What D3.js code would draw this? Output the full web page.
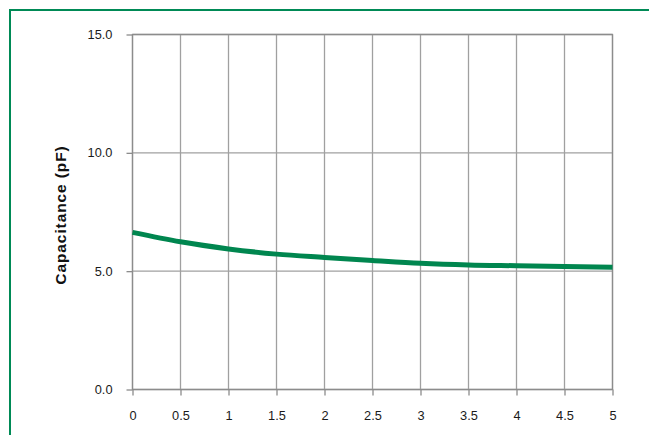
<!DOCTYPE html>
<html>
<head>
<meta charset="utf-8">
<script src="https://cdn.jsdelivr.net/npm/d3@7"></script>
<style>
  body { margin: 0; background: #fff; }
  text { font-family: "Liberation Sans", Arial, sans-serif; }
</style>
</head>
<body>
<div id="chart"></div>
<script>
var width = 649;
var height = 435;
var margin = { top: 34.5, right: 36.5, bottom: 45.5, left: 132.5 };

// values
var voltage = [0, 0.5, 1, 1.5, 2, 2.5, 3, 3.5, 4, 4.5, 5];
var capacitance = [6.64, 6.24, 5.94, 5.72, 5.58, 5.45, 5.33, 5.26, 5.23, 5.20, 5.17];
var xTicks = [0, 0.5, 1, 1.5, 2, 2.5, 3, 3.5, 4, 4.5, 5];
var yTicks = [0, 5, 10, 15];

const svg = d3.select("#chart")
    .append("svg")
    .attr("width", width)
    .attr("height", height);

// green frame (right and bottom run off the page)
svg.append("rect")
    .attr("x", 10).attr("y", 10)
    .attr("width", width + 20).attr("height", height + 20)
    .attr("fill", "none")
    .attr("stroke", "#008a56")
    .attr("stroke-width", 2);

const w = width - margin.left - margin.right;
const h = height - margin.top - margin.bottom;

const x = d3.scaleLinear().domain([0, 5]).range([0, w]);
const y = d3.scaleLinear().domain([0, 15]).range([h, 0]);

const g = svg.append("g")
    .attr("transform", "translate(" + margin.left + "," + margin.top + ")");

// grid
g.append("g").selectAll("line")
    .data(xTicks)
    .join("line")
    .attr("x1", d => x(d)).attr("x2", d => x(d))
    .attr("y1", 0).attr("y2", h)
    .attr("stroke", "#a0a0a0")
    .attr("stroke-width", 1.3);

g.append("g").selectAll("line")
    .data(yTicks)
    .join("line")
    .attr("x1", 0).attr("x2", w)
    .attr("y1", d => y(d)).attr("y2", d => y(d))
    .attr("stroke", "#a0a0a0")
    .attr("stroke-width", 1.3);

// axes
var xAxis = g.append("g")
    .attr("transform", "translate(0," + h + ")")
    .call(d3.axisBottom(x).tickValues(xTicks).tickSize(6).tickPadding(15).tickFormat(d3.format("")));

var yAxis = g.append("g")
    .call(d3.axisLeft(y).tickValues(yTicks).tickSize(6).tickPadding(14).tickFormat(d3.format(".1f")));

[xAxis, yAxis].forEach(function(a) {
    a.select(".domain").remove();
    a.selectAll(".tick line").attr("stroke", "#8c8c8c").attr("stroke-width", 1.3);
    a.selectAll(".tick text")
        .attr("fill", "#1a1a1a")
        .style("font-size", "12.8px");
});

// frame of plot
g.append("rect")
    .attr("width", w).attr("height", h)
    .attr("fill", "none")
    .attr("stroke", "#8c8c8c")
    .attr("stroke-width", 1.3);

// curve
g.append("path")
    .datum(voltage.map((v, i) => [v, capacitance[i]]))
    .attr("fill", "none")
    .attr("stroke", "#00864f")
    .attr("stroke-width", 5)
    .attr("d", d3.line()
        .x(d => x(d[0]))
        .y(d => y(d[1]))
        .curve(d3.curveMonotoneX));

// y label
svg.append("text")
    .attr("transform", "translate(66," + (margin.top + h / 2 + 3) + ") rotate(-90)")
    .attr("text-anchor", "middle")
    .style("font-size", "15.5px")
    .style("font-weight", "bold")
    .style("letter-spacing", "0.9px")
    .attr("fill", "#111")
    .text("Capacitance  (pF)");
</script>
</body>
</html>
